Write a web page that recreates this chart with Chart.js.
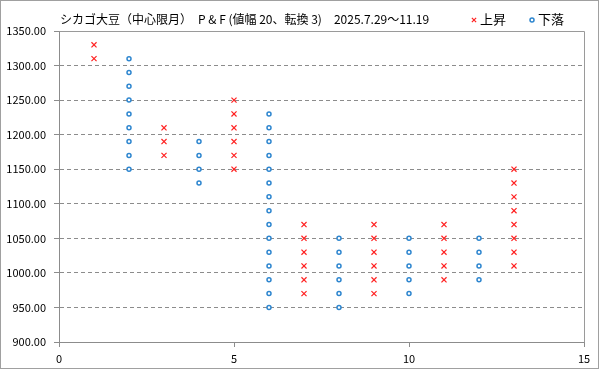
<!DOCTYPE html>
<html><head><meta charset="utf-8">
<script src="https://cdn.jsdelivr.net/npm/chart.js@4"></script>
<style>html,body{margin:0;padding:0;background:#fff}#wrap{width:599px;height:369px;position:relative}</style>
</head><body><div id="wrap"><canvas id="c" width="599" height="369"></canvas></div>
<script>
const chartTitle = 'シカゴ大豆（中心限月）　P & F (値幅 20、転換 3)　2025.7.29〜11.19';
const seriesNames = ['上昇', '下落'];
const xTicks = [0, 5, 10, 15];
const yTicks = [900, 950, 1000, 1050, 1100, 1150, 1200, 1250, 1300, 1350];
// P&F columns: column number and its box values
const riseCols = [1, 3, 5, 7, 9, 11, 13];
const riseBoxes = [
  [1310, 1330],
  [1170, 1190, 1210],
  [1150, 1170, 1190, 1210, 1230, 1250],
  [970, 990, 1010, 1030, 1050, 1070],
  [970, 990, 1010, 1030, 1050, 1070],
  [990, 1010, 1030, 1050, 1070],
  [1010, 1030, 1050, 1070, 1090, 1110, 1130, 1150]
];
const fallCols = [2, 4, 6, 8, 10, 12];
const fallBoxes = [
  [1310, 1290, 1270, 1250, 1230, 1210, 1190, 1170, 1150],
  [1190, 1170, 1150, 1130],
  [1230, 1210, 1190, 1170, 1150, 1130, 1110, 1090, 1070, 1050, 1030, 1010, 990, 970, 950],
  [1050, 1030, 1010, 990, 970, 950],
  [1050, 1030, 1010, 990, 970],
  [1050, 1030, 1010, 990]
];
const toPts = (cols, boxes) => cols.flatMap((c, i) => boxes[i].map(v => ({x: c, y: v})));

const FONT = "'Noto Sans CJK JP', 'Noto Sans', sans-serif";
const framePlugin = {
  id: 'frame',
  beforeDraw(chart) {
    const ctx = chart.ctx;
    ctx.save(); ctx.fillStyle = '#fff'; ctx.fillRect(0, 0, chart.width, chart.height); ctx.restore();
  },
  afterDraw(chart) {
    const ctx = chart.ctx, a = chart.chartArea;
    ctx.save();
    ctx.strokeStyle = '#a0a0a0'; ctx.lineWidth = 1;
    ctx.strokeRect(0.5, 0.5, chart.width - 1, chart.height - 1);
    ctx.strokeStyle = '#9a9a9a';
    ctx.beginPath();
    ctx.moveTo(Math.round(a.left) + 0.5, Math.round(a.top) + 0.5);
    ctx.lineTo(Math.round(a.right) + 0.5, Math.round(a.top) + 0.5);
    ctx.lineTo(Math.round(a.right) + 0.5, Math.round(a.bottom) + 0.5);
    ctx.stroke();
    // title
    ctx.fillStyle = '#000'; ctx.font = '12px ' + FONT; ctx.textBaseline = 'middle'; ctx.textAlign = 'left';
    ctx.fillText(chartTitle, 60, 19);
    // legend (markers use each dataset's own point style)
    const legendX = [474, 532];
    ctx.font = '13px ' + FONT;
    chart.data.datasets.forEach((ds, i) => {
      const r = ds.pointStyle === 'circle' ? 2 : 3;
      ctx.save();
      ctx.strokeStyle = ds.borderColor; ctx.fillStyle = ds.backgroundColor; ctx.lineWidth = ds.pointBorderWidth;
      Chart.helpers.drawPoint(ctx, {pointStyle: ds.pointStyle, radius: r, rotation: 0, borderWidth: ds.pointBorderWidth}, legendX[i], 20);
      ctx.restore();
      ctx.fillStyle = '#000';
      ctx.fillText(ds.label, legendX[i] + 6, 19);
    });
    ctx.restore();
  }
};

new Chart(document.getElementById('c'), {
  type: 'scatter',
  data: {
    datasets: [
      {label: seriesNames[0], data: toPts(riseCols, riseBoxes), pointStyle: 'crossRot', pointRadius: 3.6, pointHoverRadius: 3.6,
       borderColor: '#ff2020', backgroundColor: '#ff2020', pointBorderWidth: 1.2},
      {label: seriesNames[1], data: toPts(fallCols, fallBoxes), pointStyle: 'circle', pointRadius: 2, pointHoverRadius: 2,
       borderColor: '#2e86cf', backgroundColor: '#ffffff', pointBorderWidth: 1.5}
    ]
  },
  options: {
    responsive: false, animation: false, devicePixelRatio: 1,
    layout: {padding: {left: 0, right: 15, top: 31, bottom: 0}},
    plugins: {
      tooltip: {enabled: false},
      legend: {display: false}
    },
    scales: {
      x: {
        type: 'linear', min: 0, max: 15,
        afterBuildTicks: s => { s.ticks = xTicks.map(v => ({value: v})); },
        afterFit: s => { s.height = 27; },
        grid: {drawOnChartArea: false, color: '#8c8c8c', tickLength: 5},
        border: {color: '#8c8c8c'},
        ticks: {color: '#000', padding: 5, font: {family: FONT, size: 11}, maxRotation: 0}
      },
      y: {
        type: 'linear', min: 900, max: 1350,
        afterBuildTicks: s => { s.ticks = yTicks.map(v => ({value: v})); },
        afterFit: s => { s.width = 59; },
        grid: {color: '#8c8c8c', tickLength: 5},
        border: {color: '#8c8c8c', dash: [4, 3]},
        ticks: {color: '#000', padding: 8, font: {family: FONT, size: 11}, callback: v => Number(v).toFixed(2)}
      }
    }
  },
  plugins: [framePlugin]
});
</script></body></html>
